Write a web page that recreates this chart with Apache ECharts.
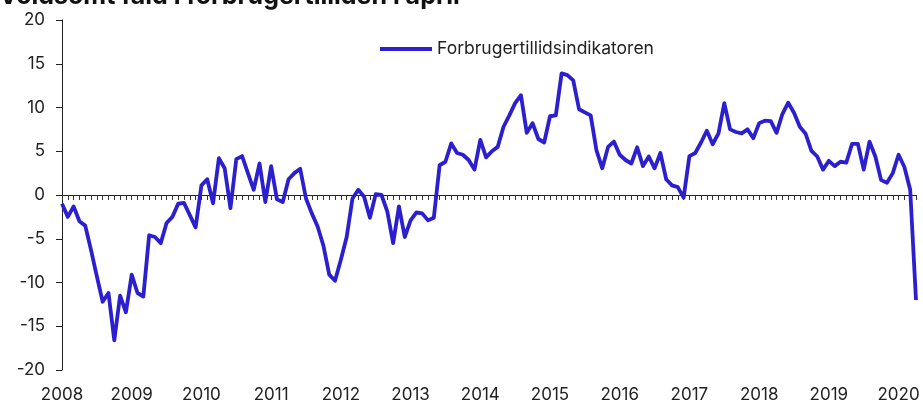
<!DOCTYPE html>
<html>
<head>
<meta charset="utf-8">
<script src="https://cdn.jsdelivr.net/npm/echarts@6/dist/echarts.min.js"></script>
<style>
    html, body { margin: 0; padding: 0; background: #fff; }
    #chart { width: 923px; height: 403px; }
</style>
</head>
<body>
<div id="chart"></div>
<script>
    // Forbrugertillidsindikatoren, månedlig, jan 2008 - apr 2020
    var years = ['2008', '2009', '2010', '2011', '2012', '2013', '2014',
        '2015', '2016', '2017', '2018', '2019', '2020'];
    var monthsInLastYear = 4;

    var values = [
        -1.0, -2.5, -1.3, -3.0, -3.5, -6.3, -9.3, -12.2, -11.2, -16.6, -11.5, -13.4, // 2008
        -9.1, -11.2, -11.6, -4.6, -4.8, -5.5, -3.2, -2.5, -1.0, -0.9, -2.3, -3.7,    // 2009
        1.1, 1.8, -0.95, 4.2, 3.05, -1.5, 4.1, 4.45, 2.5, 0.6, 3.6, -0.8,           // 2010
        3.3, -0.5, -0.8, 1.8, 2.5, 3.0, -0.4, -2.1, -3.6, -5.8, -9.1, -9.8,         // 2011
        -7.4, -4.8, -0.4, 0.6, -0.2, -2.6, 0.1, 0.0, -1.9, -5.5, -1.3, -4.8,        // 2012
        -2.9, -2.0, -2.1, -2.9, -2.6, 3.4, 3.8, 5.9, 4.8, 4.6, 4.0, 2.9,            // 2013
        6.3, 4.3, 5.0, 5.5, 7.8, 9.1, 10.5, 11.4, 7.1, 8.2, 6.4, 6.0,               // 2014
        9.0, 9.1, 13.9, 13.7, 13.1, 9.8, 9.45, 9.1, 5.1, 3.05, 5.5, 6.1,            // 2015
        4.6, 4.0, 3.6, 5.45, 3.3, 4.4, 3.05, 4.8, 1.8, 1.1, 0.9, -0.3,              // 2016
        4.45, 4.8, 6.0, 7.35, 5.8, 7.05, 10.5, 7.5, 7.2, 7.05, 7.5, 6.5,            // 2017
        8.2, 8.5, 8.45, 7.1, 9.25, 10.55, 9.4, 7.8, 7.0, 5.05, 4.4, 2.9,            // 2018
        3.9, 3.3, 3.8, 3.7, 5.85, 5.85, 2.9, 6.1, 4.4, 1.7, 1.4, 2.5,               // 2019
        4.6, 3.2, 0.6, -12.0                                                         // 2020
    ];

    // kategorier: én pr. måned
    var categories = [];
    years.forEach(function (y, yi) {
        var n = yi === years.length - 1 ? monthsInLastYear : 12;
        for (var m = 1; m <= n; m++) {
            categories.push(y + '-' + (m < 10 ? '0' + m : m));
        }
    });

    var font = 'Inter, "Noto Sans", sans-serif';
    var chart = echarts.init(document.getElementById('chart'));

    var option = {
        animation: false,
        backgroundColor: '#ffffff',
        title: {
            text: 'Voldsomt fald i forbrugertilliden i april',
            left: -1,
            top: -16,
            padding: 0,
            textStyle: {
                fontFamily: font,
                fontSize: 25,
                fontWeight: 'bold',
                color: '#111111'
            }
        },
        legend: {
            left: 380,
            top: 40,
            padding: 0,
            icon: 'rect',
            itemWidth: 52,
            itemHeight: 4,
            textStyle: {
                fontFamily: font,
                fontSize: 17.5,
                color: '#222222'
            },
            data: ['Forbrugertillidsindikatoren']
        },
        grid: {
            left: 62,
            right: 7,
            top: 20,
            bottom: 33,
            containLabel: false
        },
        xAxis: [
            {
                // nul-linje med månedlige tick-marks
                type: 'category',
                data: categories,
                boundaryGap: false,
                axisLine: {
                    onZero: true,
                    lineStyle: { color: '#222222', width: 1 }
                },
                axisTick: {
                    show: true,
                    interval: 0,
                    length: 5,
                    lineStyle: { color: '#333333', width: 1 }
                },
                axisLabel: { show: false },
                splitLine: { show: false }
            },
            {
                // årstal i bunden
                type: 'category',
                data: categories,
                boundaryGap: false,
                position: 'bottom',
                axisLine: { show: false, onZero: false },
                axisTick: { show: false },
                axisLabel: {
                    show: true,
                    margin: 16,
                    interval: function (idx) { return idx % 12 === 0; },
                    formatter: function (v) { return v.slice(0, 4); },
                    fontFamily: font,
                    fontSize: 17,
                    color: '#222222'
                },
                splitLine: { show: false }
            }
        ],
        yAxis: {
            type: 'value',
            min: -20,
            max: 20,
            interval: 5,
            axisLine: {
                show: true,
                lineStyle: { color: '#222222', width: 1 }
            },
            axisTick: {
                show: true,
                length: 6,
                lineStyle: { color: '#222222', width: 1 }
            },
            axisLabel: {
                margin: 17,
                fontFamily: font,
                fontSize: 17,
                color: '#222222'
            },
            splitLine: { show: false }
        },
        series: [
            {
                name: 'Forbrugertillidsindikatoren',
                type: 'line',
                xAxisIndex: 0,
                data: values,
                showSymbol: false,
                symbol: 'none',
                lineStyle: { color: '#2b1fcf', width: 3.8, join: 'round' },
                itemStyle: { color: '#2b1fcf' }
            }
        ]
    };

    chart.setOption(option);
</script>
</body>
</html>
